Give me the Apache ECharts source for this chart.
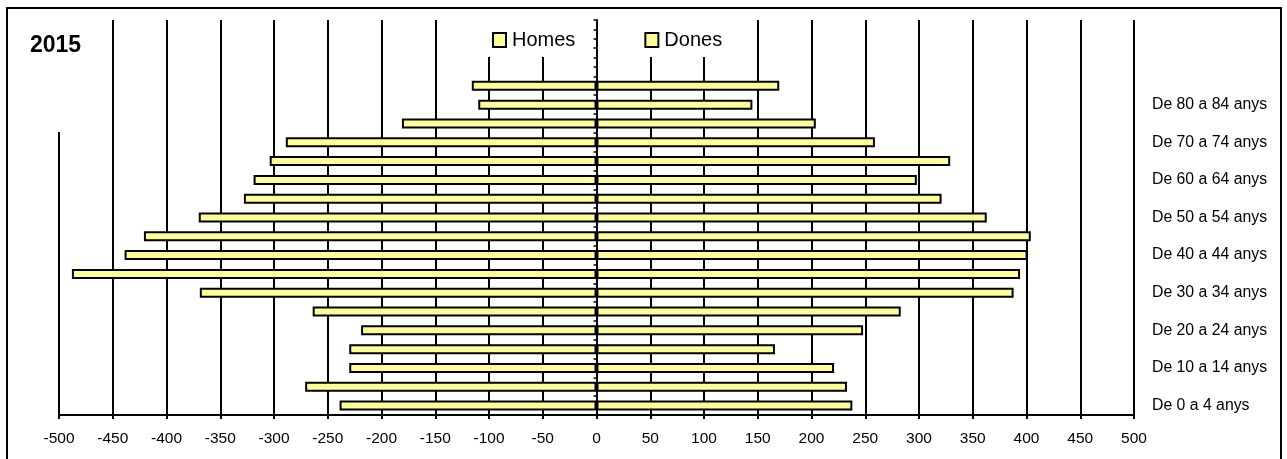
<!DOCTYPE html>
<html>
<head>
<meta charset="utf-8">
<style>
  html, body { margin: 0; padding: 0; background: #fff; }
  #chart { width: 1287px; height: 459px; }
</style>
<script src="https://cdn.jsdelivr.net/npm/echarts@6/dist/echarts.min.js"></script>
</head>
<body>
<div id="chart"></div>
<script>
// Population pyramid, 2015: men drawn to the left (negative), women to the right.
const year = '2015';
const ageGroups = [
  'De 0 a 4 anys', 'De 5 a 9 anys', 'De 10 a 14 anys', 'De 15 a 19 anys',
  'De 20 a 24 anys', 'De 25 a 29 anys', 'De 30 a 34 anys', 'De 35 a 39 anys',
  'De 40 a 44 anys', 'De 45 a 49 anys', 'De 50 a 54 anys', 'De 55 a 59 anys',
  'De 60 a 64 anys', 'De 65 a 69 anys', 'De 70 a 74 anys', 'De 75 a 79 anys',
  'De 80 a 84 anys', 'De 85 anys i més'
];
// empty slots above the oldest group keep the plot reaching the top gridline
const emptySlots = ['', '', ''];
const homes = [-239, -271, -230, -230, -219, -264, -369, -488, -439, -421,
               -370, -328, -319, -304, -289, -181, -110, -116];
const dones = [238, 233, 221, 166, 248, 283, 388, 394, 401, 404,
               363, 321, 298, 329, 259, 204, 145, 170];
const xMin = -500, xMax = 500, xStep = 50;

const FONT = "'Liberation Sans', Arial, sans-serif";
const barFill = '#FFFF99';

const chart = echarts.init(document.getElementById('chart'), null, { renderer: 'canvas' });

const barStyle = { color: barFill, borderColor: '#000', borderWidth: 2 };

chart.setOption({
  animation: false,
  backgroundColor: '#fff',
  title: {
    text: year,
    left: 30,
    top: 34,
    padding: 0,
    textStyle: { fontFamily: FONT, fontSize: 23, fontWeight: 'bold', color: '#000' }
  },
  legend: {
    left: 492,
    top: 30,
    padding: 0,
    itemWidth: 13,
    itemHeight: 14,
    itemGap: 69,
    icon: 'rect',
    selectedMode: false,
    z: 10,
    textStyle: { fontFamily: FONT, fontSize: 20, color: '#000', padding: [0, 0, 0, 1] },
    data: ['Homes', 'Dones']
  },
  grid: {
    left: 59, right: 153, top: 20, bottom: 44,
    containLabel: false,
    outerBoundsMode: 'none'
  },
  xAxis: {
    type: 'value',
    min: xMin, max: xMax, interval: xStep,
    axisLine: { show: true, onZero: false, lineStyle: { color: '#000', width: 2 } },
    axisTick: { show: true, length: 4, lineStyle: { color: '#000', width: 2 } },
    axisLabel: { fontFamily: FONT, fontSize: 15.5, color: '#000', margin: 16 },
    splitLine: { show: true, lineStyle: { color: '#000', width: 2 } }
  },
  yAxis: [
    {
      // age-group labels at the right side
      type: 'category',
      data: ageGroups.concat(emptySlots),
      position: 'right',
      boundaryGap: true,
      axisLine: { show: false, onZero: false },
      axisTick: { show: false },
      splitLine: { show: false },
      axisLabel: {
        interval: 1,
        fontFamily: FONT, fontSize: 15.8, color: '#000',
        margin: 18, align: 'left'
      }
    },
    {
      // central axis with its fine tick marks, sitting on x = 0
      type: 'value',
      min: 0, max: 42, interval: 1,
      position: 'left',
      axisLine: { show: true, onZero: true, lineStyle: { color: '#000', width: 2 } },
      axisTick: { show: true, inside: false, length: 3, lineStyle: { color: '#000', width: 1.5 } },
      axisLabel: { show: false },
      splitLine: { show: false }
    }
  ],
  graphic: [
    // white panels behind the title and the legend entries
    { type: 'rect', z: 3, silent: true, shape: { x: 15, y: 19, width: 85, height: 113 }, style: { fill: '#fff' } },
    { type: 'rect', z: 3, silent: true, shape: { x: 455, y: 19, width: 132, height: 38 }, style: { fill: '#fff' } },
    { type: 'rect', z: 3, silent: true, shape: { x: 606, y: 19, width: 140, height: 38 }, style: { fill: '#fff' } },
    // outer frame
    { type: 'rect', z: 20, silent: true, shape: { x: 7, y: 8, width: 1274, height: 470 },
      style: { fill: 'none', stroke: '#000', lineWidth: 2 } }
  ],
  series: [
    {
      name: 'Homes', type: 'bar',
      xAxisIndex: 0, yAxisIndex: 0,
      data: homes,
      barWidth: 10, barGap: '-100%',
      itemStyle: barStyle
    },
    {
      name: 'Dones', type: 'bar',
      xAxisIndex: 0, yAxisIndex: 0,
      data: dones,
      barWidth: 10, barGap: '-100%',
      itemStyle: barStyle
    }
  ]
});
</script>
</body>
</html>
